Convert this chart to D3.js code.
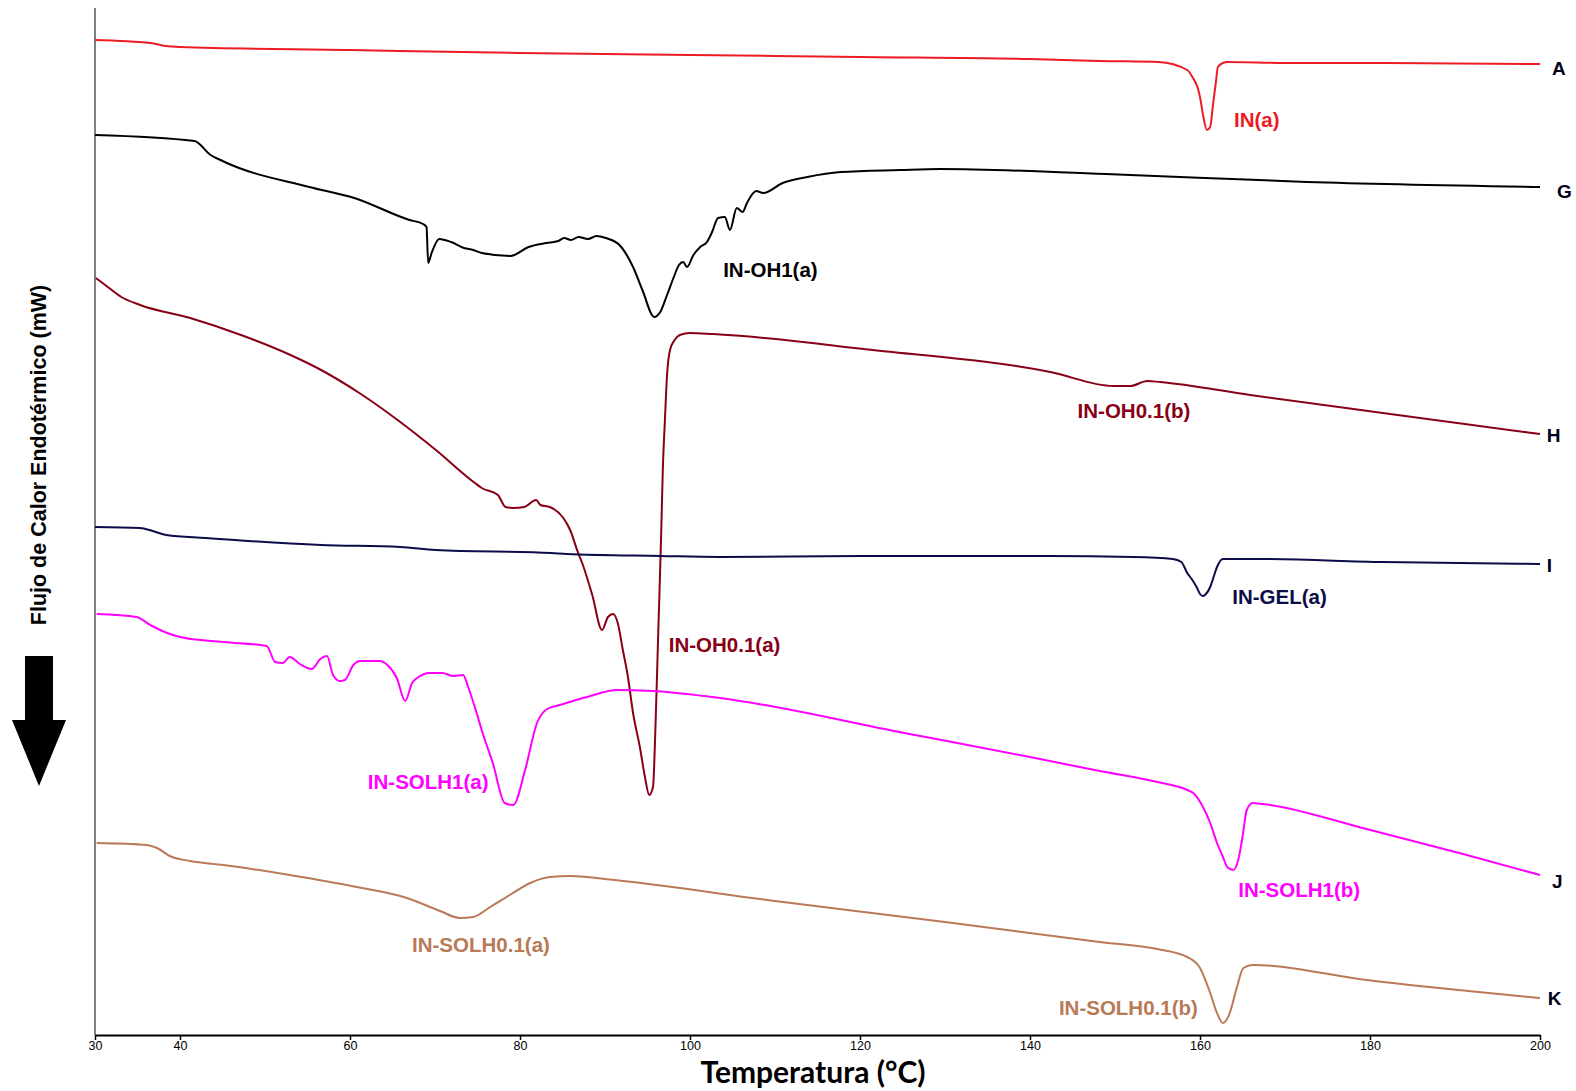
<!DOCTYPE html>
<html>
<head>
<meta charset="utf-8">
<script src="https://cdn.jsdelivr.net/npm/d3@7"></script>
<style>
    body { margin: 0; background: #fff; }
    .curve { fill: none; stroke-width: 2; stroke-linejoin: round; }
    .peak_label { font-family: "Liberation Sans", Arial, sans-serif; font-weight: bold; font-size: 20.5px; }
    .curve_letter { font-family: "Liberation Sans", Arial, sans-serif; font-weight: bold; font-size: 19px; fill: #000018; }
    .x_axis text { font-family: "Liberation Sans Narrow", "Arial Narrow", sans-serif; font-size: 12.5px; fill: #000; }
</style>
</head>
<body>
<div id="chart"></div>
<script>
// temperature (°C) vs heat flow (arbitrary offset units, mW)
const curveA = [[30,99.5],[36.5,99.2],[38.3,98.9],[40,98.8],[60,98.5],[80,98.2],[100,98.0],[120,97.8],[140,97.6],[148.2,97.4],[155.1,97.3],[158.5,96.5],[159.1,95.8],[159.7,94.8],[160.0,93.8],[160.4,91.8],[160.8,90.5],[161.2,90.8],[161.5,92.8],[161.9,95.5],[162.1,96.8],[162.7,97.2],[163.2,97.3],[170,97.2],[180,97.2],[200,97.1]];

const curveG = [[30,90.0],[41.7,89.4],[43.6,88.0],[45.0,87.4],[55.2,84.8],[60.5,83.7],[67.0,81.5],[68.6,81.1],[69.0,80.8],[69.2,77.2],[69.6,78.2],[70.5,79.6],[71.9,79.3],[73.4,78.7],[74.5,78.5],[75.5,78.2],[78.9,77.9],[81.0,78.8],[83.1,79.2],[84.5,79.4],[85.2,79.7],[86.0,79.5],[86.9,79.8],[88.0,79.6],[89.0,79.9],[90.1,79.7],[91.7,79.0],[93.3,76.8],[94.4,74.5],[95.8,71.8],[96.1,71.9],[96.5,72.3],[97.3,74.0],[98.1,75.8],[98.7,77.0],[99.2,77.3],[99.65,76.8],[100.4,78.0],[101.2,78.8],[102.0,79.3],[102.6,80.3],[103.3,81.7],[104.1,81.8],[104.7,80.5],[105.5,82.7],[106.2,82.3],[106.7,83.2],[107.8,84.4],[108.6,84.2],[110.9,85.2],[113.8,85.8],[117.7,86.3],[124.7,86.5],[129.4,86.6],[148.9,86.1],[172.6,85.3],[200,84.8]];

const curveH = [[30.1,75.7],[31.2,75.0],[33.1,73.8],[35.3,73.0],[41.2,71.7],[47.5,69.9],[53.0,68.0],[56.6,66.5],[61.1,64.2],[65.6,61.5],[70.1,58.5],[74.7,55.2],[75.5,54.7],[77.4,54.0],[78.3,52.8],[79.2,52.7],[80.5,52.8],[81.9,53.5],[82.4,53.0],[83.5,52.8],[85.1,51.7],[85.9,50.5],[86.8,48.3],[87.4,47.0],[88.5,44.0],[89.65,40.5],[90.35,41.8],[90.95,42.1],[91.5,41.2],[92.1,38.5],[92.7,35.8],[93.3,32.2],[94.1,28.8],[94.7,25.8],[95.2,24.0],[95.65,24.8],[95.9,29.8],[96.25,39.8],[96.6,49.8],[96.8,56.5],[97.05,61.5],[97.3,66.0],[97.65,68.5],[98.2,69.5],[98.8,70.0],[100,70.2],[102.7,70.1],[121.5,68.5],[142.4,66.3],[149.8,64.9],[151.8,64.9],[153.8,65.4],[155.3,65.3],[165.9,64.0],[181.5,62.2],[200,60.1]];

const curveI = [[30,50.8],[35.3,50.7],[36.8,50.4],[38.4,50.0],[43,49.7],[56.6,49.0],[65.9,48.8],[70.1,48.5],[83.7,48.2],[85.5,48.1],[96.5,47.9],[103.5,47.8],[120,47.9],[142.4,47.9],[152.1,47.8],[156.8,47.6],[157.8,47.3],[158.5,46.2],[159.1,45.5],[159.6,44.8],[160.0,44.1],[160.35,43.9],[160.7,44.1],[161.2,44.8],[161.6,45.8],[162.0,46.8],[162.7,47.6],[166.7,47.6],[181.5,47.3],[200,47.1]];

const curveJ = [[30.2,42.1],[34.9,41.8],[36.5,41.0],[38.5,40.2],[40.0,39.8],[45.1,39.3],[50.2,38.9],[51.2,37.3],[52.1,37.2],[52.9,37.8],[54.1,37.1],[55.5,36.6],[56.5,37.6],[57.3,37.9],[58.0,36.0],[58.8,35.4],[59.4,35.5],[60.4,37.0],[61.2,37.4],[63.5,37.4],[64.4,37.0],[65.5,35.7],[66.5,33.4],[67.3,35.2],[67.9,35.7],[69.4,36.2],[70.9,36.2],[72.1,35.9],[73.3,36.0],[73.9,34.8],[74.9,32.2],[75.6,30.2],[76.8,27.2],[78.2,23.2],[79.2,23.0],[80.6,26.5],[82.0,31.2],[83.2,32.6],[84.7,33.0],[87.9,33.8],[91.4,34.5],[95.6,34.4],[103.5,33.7],[125.2,30.2],[140,27.8],[148.2,26.4],[155,25.3],[158.5,24.5],[159.2,24.2],[160.35,22.8],[161.2,21.2],[162.0,19.2],[162.7,17.8],[163.2,16.8],[163.9,16.5],[164.5,17.5],[165.0,19.8],[165.5,22.5],[166.2,23.2],[167.4,23.1],[179.6,20.6],[191.4,18.0],[200,16.0]];

const curveK = [[30.2,19.2],[36.1,19.0],[37.3,18.7],[38.8,17.9],[41.2,17.4],[45.1,17.0],[52.9,16.0],[60.8,14.8],[66.7,13.7],[70.6,12.4],[72.9,11.7],[74.5,11.8],[76.5,12.8],[78.8,14.0],[81.2,15.2],[83.5,15.8],[86,15.9],[90,15.6],[110,13.4],[130,11.3],[148.2,9.3],[155,8.6],[158.5,7.8],[160.0,6.7],[161.2,4.2],[162.0,2.2],[162.7,1.2],[163.5,2.2],[164.35,4.8],[165.1,6.7],[166.2,7.0],[179.6,5.5],[200,3.7]];

const curveNames = ["A", "G", "H", "I", "J", "K"];
const curveColors = ["#ed1c24", "#000000", "#880015", "#0c0c48", "#ff00ff", "#b97a57"];
const curveData = [curveA, curveG, curveH, curveI, curveJ, curveK];

// letter at the right end of each curve: [T, flow]
const letterPos = [[201.4,96.0],[202.0,83.7],[200.8,59.3],[200.8,46.3],[201.4,14.7],[200.9,3.0]];

// peak labels: text, curve index, anchor [T, flow]
const peakLabels = ["IN(a)", "IN-OH1(a)", "IN-OH0.1(b)", "IN-GEL(a)", "IN-OH0.1(a)", "IN-SOLH1(a)", "IN-SOLH1(b)", "IN-SOLH0.1(a)", "IN-SOLH0.1(b)"];
const peakCurve = [0, 1, 2, 3, 2, 4, 4, 5, 5];
const peakPos = [[164.0,90.8],[103.9,75.8],[145.6,61.7],[163.8,43.1],[97.5,38.3],[62.1,24.6],[164.5,13.8],[67.3,8.3],[143.4,2.0]];

const xTicks = [30, 40, 60, 80, 100, 120, 140, 160, 180, 200];

// svg
let width = 1576, height = 1091;
let svg = d3.select("#chart")
    .append("svg")
    .attr("width", width)
    .attr("height", height);

let x = d3.scaleLinear().domain([30, 200]).range([95, 1540]);
let y = d3.scaleLinear().domain([0, 102.7]).range([1035, 8]);

// left axis, no ticks
svg.append("line")
    .attr("x1", x(30)).attr("x2", x(30))
    .attr("y1", y(102.7)).attr("y2", y(0))
    .attr("stroke", "#808080")
    .attr("stroke-width", 2);

// bottom axis
let xAxis = svg.append("g")
    .classed("x_axis", true)
    .attr("transform", "translate(0," + y(0) + ")")
    .call(d3.axisBottom(x).tickValues(xTicks).tickSize(5).tickSizeOuter(0).tickFormat(d3.format("d")));
xAxis.select(".domain").attr("stroke", "#000").attr("stroke-width", 2);
xAxis.selectAll(".tick line").attr("stroke", "#000").attr("stroke-width", 1.5);
xAxis.selectAll(".tick text").attr("y", 6);

// curves
let line = d3.line()
    .curve(d3.curveMonotoneX)
    .x(d => x(d[0]))
    .y(d => y(d[1]));

svg.selectAll(".curve")
    .data(curveData)
    .enter()
    .append("path")
    .classed("curve", true)
    .attr("stroke", (d, i) => curveColors[i])
    .attr("d", line);

// letters
svg.selectAll(".curve_letter")
    .data(curveNames)
    .enter()
    .append("text")
    .classed("curve_letter", true)
    .attr("x", (d, i) => x(letterPos[i][0]))
    .attr("y", (d, i) => y(letterPos[i][1]))
    .text(d => d);

// peak labels
svg.selectAll(".peak_label")
    .data(peakLabels)
    .enter()
    .append("text")
    .classed("peak_label", true)
    .attr("x", (d, i) => x(peakPos[i][0]))
    .attr("y", (d, i) => y(peakPos[i][1]))
    .attr("fill", (d, i) => curveColors[peakCurve[i]])
    .text(d => d);

// axis titles
svg.append("text")
    .attr("x", 813)
    .attr("y", 1083)
    .attr("text-anchor", "middle")
    .style("font-family", "Lato, 'Open Sans', sans-serif")
    .style("font-weight", "bold")
    .style("font-size", "30px")
    .text("Temperatura (°C)");

svg.append("text")
    .attr("transform", "translate(46,455) rotate(-90)")
    .attr("text-anchor", "middle")
    .style("font-family", "'Liberation Sans', Arial, sans-serif")
    .style("font-weight", "bold")
    .style("font-size", "21.5px")
    .text("Flujo de Calor Endotérmico (mW)");

// arrow pointing down (endothermic)
svg.append("path")
    .attr("d", "M25,656 L53,656 L53,720 L66,720 L39,786 L12,720 L25,720 Z")
    .attr("fill", "#000");
</script>
</body>
</html>
